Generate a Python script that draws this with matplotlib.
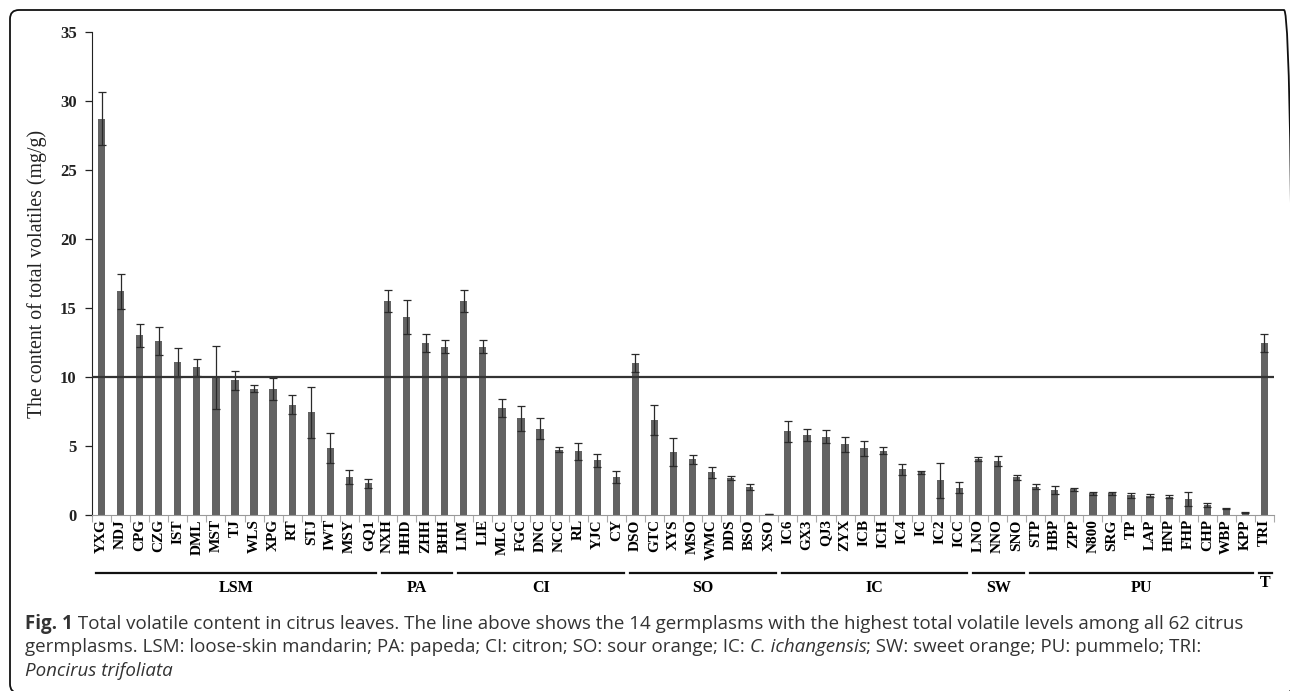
import matplotlib
matplotlib.use("Agg")
import matplotlib.pyplot as plt
from matplotlib.patches import FancyBboxPatch
import matplotlib.transforms as transforms
import numpy as np

# germplasm names, in plot order
names = ["YXG", "NDJ", "CPG", "CZG", "IST", "DML", "MST", "TJ", "WLS", "XPG",
         "RT", "STJ", "IWT", "MSY", "GQ1",
         "NXH", "HHD", "ZHH", "BHH",
         "LIM", "LIE", "MLC", "FGC", "DNC", "NCC", "RL", "YJC", "CY",
         "DSO", "GTC", "XYS", "MSO", "WMC", "DDS", "BSO", "XSO",
         "IC6", "GX3", "QJ3", "ZYX", "ICB", "ICH", "IC4", "IC", "IC2", "ICC",
         "LNO", "NNO", "SNO",
         "STP", "HBP", "ZPP", "N800", "SRG", "TP", "LAP", "HNP", "FHP", "CHP",
         "WBP", "KPP",
         "TRI"]

# total volatile content (mg/g)
content = [28.7, 16.2, 13.0, 12.6, 11.05, 10.7, 9.95, 9.75, 9.15, 9.1,
           8.0, 7.45, 4.85, 2.75, 2.3,
           15.5, 14.35, 12.45, 12.2,
           15.5, 12.2, 7.75, 7.0, 6.25, 4.72, 4.6, 3.95, 2.77,
           11.0, 6.85, 4.55, 4.05, 3.08, 2.68, 2.02, 0.08,
           6.05, 5.78, 5.68, 5.13, 4.82, 4.67, 3.3, 3.08, 2.5, 1.98,
           4.05, 3.9, 2.72,
           2.06, 1.82, 1.86, 1.57, 1.56, 1.44, 1.4, 1.32, 1.15, 0.73,
           0.47, 0.18,
           12.45]

# standard deviation
sd = [1.9, 1.25, 0.85, 1.0, 1.05, 0.6, 2.3, 0.7, 0.25, 0.8,
      0.72, 1.85, 1.1, 0.5, 0.33,
      0.8, 1.22, 0.68, 0.5,
      0.8, 0.5, 0.67, 0.9, 0.75, 0.19, 0.62, 0.48, 0.45,
      0.68, 1.08, 1.03, 0.33, 0.38, 0.13, 0.2, 0.02,
      0.75, 0.44, 0.48, 0.55, 0.57, 0.24, 0.42, 0.14, 1.25, 0.42,
      0.15, 0.38, 0.17,
      0.16, 0.3, 0.1, 0.1, 0.1, 0.18, 0.1, 0.1, 0.48, 0.12,
      0.05, 0.04,
      0.67]

groups = ["LSM", "PA", "CI", "SO", "IC", "SW", "PU", "T"]
group_sizes = [15, 4, 9, 8, 10, 3, 12, 1]

threshold = 10

W, H = 1290, 691
fig = plt.figure(figsize=(W / 100, H / 100), dpi=100)
ax = fig.add_axes([92 / W, 176 / H, 1182 / W, 483.3 / H])

x = np.arange(len(names))
ax.bar(x, content, width=0.38, color="#636363", zorder=2)
ax.errorbar(x, content, yerr=sd, fmt="none", ecolor="#2a2a2a",
            elinewidth=0.9, capsize=2.8, capthick=0.9, zorder=3)

# the 10 mg/g line
ax.axhline(threshold, color="#333333", lw=1.6, zorder=4)

ax.set_xlim(-0.5, len(names) - 0.5)
ax.set_ylim(0, 35)
ax.set_yticks(range(0, 36, 5))
for s in ["top", "right"]:
    ax.spines[s].set_visible(False)
ax.spines["left"].set_color("#222222")
ax.spines["bottom"].set_color("#999999")
ax.tick_params(axis="y", direction="out", length=5, width=0.9, pad=6,
               colors="#222222")
ax.set_xticks(x)
ax.set_xticklabels(names, rotation=90, fontfamily="Liberation Serif",
                   fontweight="bold", fontsize=11)
ax.tick_params(axis="x", length=0, pad=3)
ax.set_xticks(np.arange(-0.5, len(names), 1), minor=True)
ax.tick_params(axis="x", which="minor", direction="out", length=5,
               width=0.8, color="#aaaaaa")
for lab in ax.get_yticklabels():
    lab.set_fontfamily("Liberation Serif")
    lab.set_fontweight("bold")
    lab.set_fontsize(12)

fig.text(37 / W, 1 - 274 / H, "The content of total volatiles (mg/g)",
         rotation=90, ha="center", va="center",
         fontfamily="Liberation Serif", fontsize=14.3, color="#222222")

# group lines and labels under the tick labels
trans = transforms.blended_transform_factory(ax.transData, ax.transAxes)
line_y = -(573 - 515) / 483.3
text_y = -(588 - 515) / 483.3
start = 0
for g, n in zip(groups, group_sizes):
    end = start + n - 1
    ax.plot([start - 0.3, end + 0.4], [line_y, line_y], color="#111111",
            lw=1.6, transform=trans, clip_on=False)
    ty = text_y + 0.01 if g == "T" else text_y
    ax.text((start + end) / 2 + 0.05, ty, g, transform=trans,
            ha="center", va="center", fontfamily="Liberation Serif",
            fontweight="bold", fontsize=11.5)
    start = end + 1

# frame round the figure (pixel coordinates, origin bottom left);
# right and bottom edges fall just outside the picture
frame = FancyBboxPatch((10, -2), 1283, H - 8,
                       boxstyle="round,pad=0,rounding_size=9",
                       transform=transforms.IdentityTransform(), fill=False,
                       edgecolor="#111111", lw=1.3)
frame.set_clip_on(False)
fig.patches.append(frame)

# caption, written piece by piece
renderer = fig.canvas.get_renderer()
cap_font = "Open Sans"
cap_size = 13.5
cap_color = "#333333"


def caption_line(pieces, y_px):
    xpos = 25
    for txt, weight, style in pieces:
        t = fig.text(xpos / W, 1 - y_px / H, txt, fontfamily=cap_font,
                     fontsize=cap_size, fontweight=weight, fontstyle=style,
                     color=cap_color, va="baseline", ha="left")
        bb = t.get_window_extent(renderer)
        xpos += bb.width


caption_line([("Fig. 1", "bold", "normal"),
              (" Total volatile content in citrus leaves. The line above shows the 14 "
               "germplasms with the highest total volatile levels among all 62 citrus",
               "normal", "normal")], 629)
caption_line([("germplasms. LSM: loose-skin mandarin; PA: papeda; CI: citron; SO: sour "
               "orange; IC: ", "normal", "normal"),
              ("C. ichangensis", "normal", "italic"),
              ("; SW: sweet orange; PU: pummelo; TRI:", "normal", "normal")], 652)
caption_line([("Poncirus trifoliata", "normal", "italic")], 676)

fig.savefig("out.png", dpi=100)
